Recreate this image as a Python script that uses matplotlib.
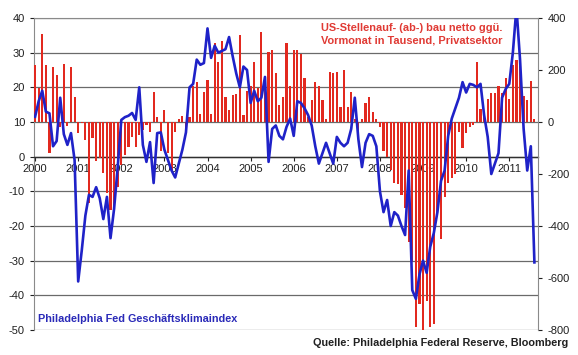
import matplotlib
matplotlib.use('Agg')
import matplotlib.pyplot as plt
import numpy as np

# monthly data, Jan 2000 - Aug 2011
years = [str(y) for y in range(2000, 2012)]

# Philadelphia Fed index (left axis)
philly = [
    11.5, 16, 19, 13, 12.5, 3, 4.5, 17, 6.5, 3.4, 6.8, -1,            # 2000
    -36, -27, -17, -11, -11.6, -8.8, -12, -18, -11.6, -23.5, -15, -3,  # 2001
    10.6, 11.4, 11.8, 12.6, 10.6, 20, 3.4, -1.5, 4.2, -7.6, 6.8, 7,    # 2002
    2, -1, -4, -6, -2, 2, 7, 20, 21, 28, 26.5, 27,                     # 2003
    37, 28.5, 32, 30, 30.5, 31, 34.5, 29, 24, 20, 26, 25,              # 2004
    15.5, 19, 16, 17, 23, -1.5, 8, 9, 6, 5, 8.6, 11,                   # 2005
    6, 16, 15.5, 14, 12, 9, 3, -2, 1, 4, 1, -2,                        # 2006
    5.7, 4, 3, 4, 8, 17, 5, -3, 4, 6.5, 6, 3,                          # 2007
    -10, -16, -12.5, -20, -16, -17, -20, -22.6, -4, -38.5, -41, -34,   # 2008
    -30, -33.5, -26, -22, -16, -7, -4, 6, 11, 14, 17, 21.5,            # 2009
    18.5, 21, 20.7, 20, 21, 12, 5.7, -5, -2, 1, 17, 19.5,              # 2010
    21, 30, 43, 28, 8, -4, 3, -30.5,                                   # 2011
]

# US private payrolls, change vs previous month in thousands (right axis)
jobs = [
    219, 131, 338, 219, -120, 212, 181, -20, 223, -15, 213, 96,
    -43, -5, -69, -312, -60, -150, -140, -196, -273, -340, -338, -250,
    -165, -127, -96, -58, -96, -50, -30, -10, -40, 115, 20, -110,
    46, -120, -185, -40, 10, 23, -45, 20, 138, 154, 30, 115,
    162, 30, 303, 229, 311, 97, 46, 104, 107, 335, 27, 120,
    140, 231, 130, 346, 150, 269, 277, 190, 67, 96, 303, 138,
    277, 277, 262, 169, 20, 85, 154, 140, 85, 10, 192, 190,
    192, 58, 200, 58, 115, 10, -43, 10, 73, 96, 38, 10,
    -20, -110, -135, -185, -235, -240, -280, -330, -460, -540, -790, -700,
    -800, -690, -790, -775, -350, -450, -290, -235, -215, -200, -38, -100,
    -43, -20, -10, 231, 50, 40, 90, 110, 110, 140, 110, 169,
    90, 220, 240, 215, 100, 85, 156, 10,
]

plt.rcParams['font.family'] = ['Liberation Sans', 'DejaVu Sans']
plt.rcParams['axes.unicode_minus'] = False

fig = plt.figure(figsize=(5.78, 3.55), dpi=100)
ax = fig.add_axes([34 / 578, 1 - 330 / 355, 504 / 578, 312 / 355])
months = np.arange(len(philly))

# background axis: grid, left scale, year labels
ax.set_xlim(-0.3, 140)
ax.set_ylim(-50, 40)
ax.set_yticks(range(-50, 41, 10))
ax.yaxis.grid(True, color='#6a6a6a', lw=0.9)
ax.set_axisbelow(True)
ax.set_xticks(np.arange(0, len(philly), 12))
ax.set_xticklabels(years)
ax.spines['bottom'].set_position(('data', 0))
ax.spines['bottom'].set_color('#303030')
ax.spines['bottom'].set_linewidth(1.0)
for s in ['left', 'top']:
    ax.spines[s].set_color('#8a8a8a')
ax.spines['right'].set_visible(False)
ax.tick_params(axis='y', length=3, pad=3.5, labelsize=8, colors='#202020')
ax.tick_params(axis='x', length=3, pad=2.5, labelsize=8, colors='#202020')

# red bars, right scale
axb = ax.twinx()
axb.bar(months, jobs, width=0.6, color='#e2291f', linewidth=0)
axb.set_ylim(-800, 400)
axb.set_yticks(range(-800, 401, 200))
for s in ['left', 'top', 'bottom']:
    axb.spines[s].set_visible(False)
axb.spines['right'].set_color('#8a8a8a')
axb.tick_params(axis='y', length=3, pad=4, labelsize=8, colors='#202020')

# blue line on top
axl = ax.twinx()
axl.plot(months, philly, color='#1f22c8', lw=1.9)
axl.set_ylim(-50, 40)
axl.set_yticks([])
for s in axl.spines.values():
    s.set_visible(False)

ax.text(0.75, 0.949, 'US-Stellenauf- (ab-) bau netto ggü.\nVormonat in Tausend, Privatsektor',
        transform=ax.transAxes, ha='center', va='center', multialignment='center',
        color='#e03a34', fontsize=7.9, fontweight='bold', linespacing=1.3, zorder=10)
axl.text(0.008, 0.035, 'Philadelphia Fed Geschäftsklimaindex', transform=ax.transAxes,
         ha='left', va='center', color='#2a2ab8', fontsize=7.8, fontweight='bold')
fig.text(568 / 578, 1 - 343 / 355, 'Quelle: Philadelphia Federal Reserve, Bloomberg',
         ha='right', va='center', color='#202020', fontsize=7.8, fontweight='bold')

fig.savefig('out.png', dpi=100)
